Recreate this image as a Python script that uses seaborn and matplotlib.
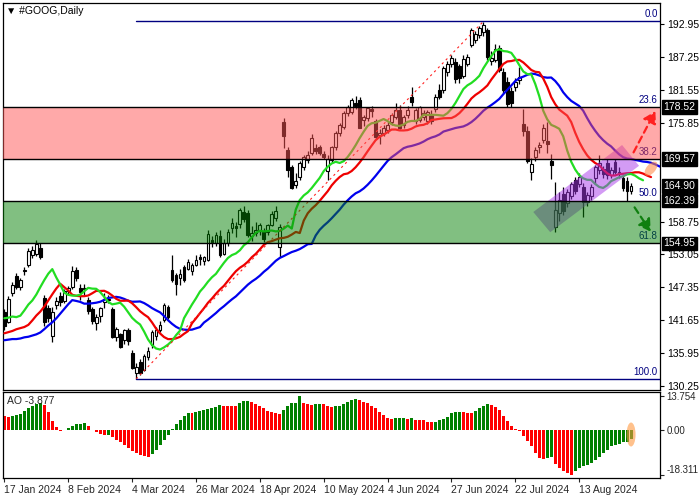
import numpy as np
import pandas as pd
import matplotlib
matplotlib.use("Agg")
import matplotlib.pyplot as plt
import matplotlib.transforms as mtransforms
from matplotlib.patches import Polygon, Ellipse, FancyArrowPatch
import seaborn as sns

sns.set_style("white")
plt.rcParams["font.family"] = ["Liberation Sans", "DejaVu Sans"]

# ---------------- data (daily bars from 17 Jan 2024) ----------------
opens = [
    143.1, 141.4, 146.3, 149.3, 147.4, 150.1, 151.2, 152.9, 153.2, 154.2,
    145.5, 143.8, 139.0, 144.3, 145.9, 145.0, 146.8, 147.4, 150.3, 147.2,
    147.0, 145.2, 143.6, 141.2, 142.4, 144.9, 145.4, 143.6, 138.7, 139.3,
    138.3, 140.0, 136.0, 132.6, 134.4, 133.1, 135.3, 137.4, 138.9, 140.0,
    141.7, 144.0, 150.4, 149.5, 148.9, 150.9, 150.6, 150.2, 151.3, 152.6,
    152.0, 152.1, 155.6, 155.0, 156.3, 153.2, 155.1, 157.7, 158.0, 158.3,
    160.4, 160.3, 156.2, 156.8, 157.1, 157.0, 156.9, 158.2, 159.4, 154.3,
    176.0, 171.2, 168.2, 165.1, 166.5, 168.2, 169.4, 170.6, 171.5, 171.6,
    170.4, 167.5, 169.4, 171.6, 174.1, 175.1, 177.5, 177.7, 179.2, 179.8,
    176.3, 176.7, 178.2, 176.1, 173.8, 174.1, 174.6, 175.9, 176.9, 178.1,
    175.4, 177.2, 180.3, 176.1, 176.4, 176.9, 176.1, 177.2, 178.2, 181.5,
    181.5, 184.6, 186.0, 186.4, 185.6, 184.0, 186.0, 189.3, 190.2, 191.1,
    191.5, 191.9, 186.6, 186.7, 188.8, 184.6, 182.9, 181.4, 182.0, 183.3,
    175.6, 174.5, 167.4, 169.9, 171.7, 172.9, 172.7, 169.3, 157.8, 160.3,
    163.6, 162.0, 163.1, 165.9, 165.2, 164.8, 162.2, 163.1, 166.3, 167.6,
    167.8, 168.8, 166.8, 169.0, 166.9, 166.3, 165.7, 164.1]
highs = [
    143.6, 145.8, 148.2, 149.8, 149.0, 150.9, 154.2, 154.6, 155.5, 155.1,
    146.0, 144.3, 143.9, 145.6, 146.5, 147.1, 147.6, 151.0, 150.8, 148.0,
    148.0, 145.6, 144.0, 142.8, 144.0, 146.3, 146.0, 143.9, 140.5, 139.5,
    140.2, 140.3, 136.5, 134.3, 134.9, 135.9, 137.0, 140.0, 140.5, 141.6,
    144.7, 144.3, 153.0, 149.8, 150.5, 151.3, 152.3, 151.6, 153.0, 153.2,
    152.8, 157.2, 156.3, 157.0, 157.3, 155.8, 157.4, 159.3, 158.6, 161.1,
    161.5, 160.7, 157.9, 158.7, 158.5, 157.6, 158.4, 160.5, 161.4, 158.3,
    176.6, 171.6, 168.6, 167.2, 169.2, 170.3, 170.9, 173.9, 172.2, 172.0,
    171.0, 170.2, 171.9, 174.4, 175.8, 177.9, 179.0, 180.1, 180.5, 180.3,
    177.2, 178.6, 178.8, 176.5, 174.7, 175.4, 176.0, 177.6, 179.3, 178.9,
    177.2, 178.7, 182.0, 178.4, 178.8, 178.1, 178.0, 178.0, 180.8, 182.5,
    185.7, 186.5, 187.6, 187.1, 186.0, 187.5, 187.8, 192.2, 191.8, 192.6,
    193.3, 192.3, 188.2, 189.5, 189.4, 185.3, 183.8, 182.1, 183.6, 185.5,
    178.3, 175.3, 169.7, 171.7, 172.6, 175.6, 176.0, 170.4, 165.6, 163.8,
    164.8, 164.3, 165.6, 166.4, 167.1, 165.4, 163.8, 165.2, 168.5, 170.3,
    168.4, 169.5, 168.2, 169.6, 168.2, 167.0, 166.4, 165.5]
lows = [
    140.0, 141.1, 145.8, 147.0, 146.9, 149.5, 150.9, 152.4, 152.8, 152.2,
    140.6, 141.3, 137.9, 143.6, 144.2, 144.6, 146.0, 147.0, 148.5, 145.2,
    146.0, 142.8, 141.0, 139.9, 141.3, 143.8, 144.7, 138.6, 138.0, 136.8,
    137.5, 137.4, 133.2, 131.4, 132.1, 132.8, 134.8, 136.9, 138.3, 139.6,
    141.3, 141.8, 148.3, 146.0, 147.8, 148.2, 150.3, 149.5, 151.0, 151.2,
    151.3, 151.9, 154.4, 154.6, 152.6, 152.9, 154.6, 156.8, 156.0, 157.7,
    158.6, 156.1, 155.4, 156.2, 156.5, 155.2, 156.5, 157.9, 158.8, 152.6,
    171.4, 166.5, 164.3, 164.6, 166.0, 167.6, 168.8, 170.3, 170.4, 170.2,
    169.5, 165.9, 169.0, 171.2, 173.6, 174.8, 177.1, 177.3, 178.3, 174.9,
    175.3, 176.2, 176.8, 173.0, 172.2, 173.5, 174.0, 175.4, 176.5, 174.7,
    175.0, 176.7, 178.7, 175.6, 175.9, 176.4, 175.6, 175.6, 177.8, 180.0,
    181.0, 184.0, 185.5, 182.7, 182.8, 183.6, 185.6, 188.9, 189.6, 190.5,
    190.8, 186.8, 185.8, 186.3, 184.6, 181.0, 178.6, 178.6, 181.3, 182.6,
    173.5, 168.8, 165.9, 169.3, 170.7, 172.4, 170.6, 166.2, 156.9, 158.9,
    159.9, 161.3, 162.6, 163.5, 164.7, 159.6, 161.5, 162.5, 165.2, 167.0,
    166.3, 166.2, 166.3, 166.9, 166.3, 164.1, 162.3, 163.6]
closes = [
    140.7, 145.4, 147.8, 147.4, 148.7, 150.4, 153.6, 153.8, 154.9, 152.6,
    141.4, 142.1, 143.0, 145.0, 144.9, 146.8, 147.3, 150.2, 148.9, 146.6,
    147.3, 143.3, 141.5, 142.2, 143.8, 145.4, 145.1, 138.8, 140.2, 137.1,
    139.9, 138.0, 133.4, 133.6, 132.6, 135.4, 136.3, 139.6, 139.9, 140.8,
    144.3, 142.2, 148.6, 147.9, 149.7, 148.7, 151.8, 151.2, 152.1, 152.3,
    152.6, 156.6, 155.2, 156.4, 153.0, 155.0, 157.0, 158.5, 157.6, 160.8,
    159.2, 156.4, 156.8, 157.3, 158.1, 155.7, 158.1, 160.0, 160.6, 157.8,
    173.6, 167.7, 164.6, 165.8, 168.9, 169.9, 170.3, 173.3, 170.9, 170.6,
    169.9, 169.6, 171.6, 174.1, 175.5, 177.5, 178.6, 179.8, 178.8, 175.0,
    176.8, 178.4, 177.9, 173.4, 174.1, 175.0, 175.5, 177.2, 178.1, 175.0,
    176.9, 178.1, 179.4, 178.1, 178.5, 177.6, 177.7, 176.1, 180.3, 180.3,
    185.3, 186.0, 187.1, 183.4, 183.6, 186.9, 187.3, 191.9, 191.3, 192.2,
    192.8, 187.2, 187.0, 188.6, 185.0, 181.6, 179.1, 179.3, 182.9, 183.8,
    174.5, 169.2, 168.7, 171.1, 172.0, 174.9, 172.1, 168.5, 160.7, 162.5,
    160.6, 163.8, 165.2, 164.0, 166.4, 162.2, 163.3, 164.8, 168.2, 168.9,
    166.9, 166.8, 167.7, 167.4, 167.4, 164.6, 164.0, 164.9]

# Awesome Oscillator values
ao_values = [
    5.4, 5.2, 5.7, 6.0, 6.5, 7.8, 8.7, 9.6, 10.5, 11.0,
    10.0, 7.3, 3.6, 1.3, -0.4, -0.2, 0.6, 1.6, 2.2, 2.4,
    2.6, 1.6, 0.0, -1.0, -1.6, -2.3, -2.1, -2.9, -4.0, -5.1,
    -6.3, -7.3, -8.4, -9.4, -10.2, -10.7, -10.8, -9.8, -8.0, -6.3,
    -4.3, -2.2, 0.3, 2.3, 4.0, 5.6, 7.0, 6.8, 7.3, 7.8,
    8.0, 8.4, 9.0, 9.4, 9.9, 9.8, 9.7, 9.6, 9.5, 10.7,
    11.7, 11.8, 11.1, 10.5, 9.6, 8.7, 7.8, 7.1, 6.7, 6.2,
    8.0, 9.6, 10.7, 11.0, 13.754, 10.7, 10.4, 10.0, 10.4, 10.5,
    10.4, 9.8, 9.4, 9.5, 9.7, 10.4, 11.4, 12.1, 12.3, 12.1,
    11.4, 10.7, 9.8, 8.7, 7.3, 6.0, 4.8, 4.5, 4.6, 4.8,
    4.9, 4.5, 4.6, 4.0, 3.9, 3.8, 3.1, 3.0, 3.3, 3.8,
    4.3, 5.0, 6.7, 7.1, 7.2, 7.1, 7.0, 6.9, 7.8, 8.7,
    9.8, 10.4, 10.2, 9.2, 8.1, 5.7, 3.7, 1.6, 0.3, -0.4,
    -2.7, -4.7, -6.7, -9.4, -11.4, -11.8, -11.4, -11.1, -14.0, -15.4,
    -16.7, -17.4, -18.311, -16.7, -15.4, -14.8, -14.4, -13.4, -12.3, -11.1,
    -9.4, -8.1, -6.7, -6.0, -5.7, -5.1, -4.9, -3.877]
ao_before_first = 5.6

# Alligator: values already on chart before first computed point
jaw_lead = [138.2, 138.3, 138.4, 138.4, 138.5, 138.7, 138.8, 139.0]
teeth_lead = [139.4, 139.6, 139.8, 140.1, 140.3]
lips_lead = [142.0, 142.1, 142.3]

date_ticks = [0, 16, 32, 48, 64, 80, 96, 112, 128, 144]
date_labels = ["17 Jan 2024", "8 Feb 2024", "4 Mar 2024", "26 Mar 2024", "18 Apr 2024",
               "10 May 2024", "4 Jun 2024", "27 Jun 2024", "22 Jul 2024", "13 Aug 2024"]
price_ticks = [192.95, 187.25, 181.55, 175.85, 158.75, 153.05, 147.35, 141.65, 135.95, 130.25]
marked_prices = [178.52, 169.57, 164.90, 162.39, 154.95]
ao_ticks = [13.754, 0.0, -18.311]
ao_tick_labels = ["13.754", "0.00", "-18.311"]
fib_levels = [193.4, 178.52, 169.57, 162.39, 154.95, 131.5]
fib_names = ["0.0", "23.6", "38.2", "50.0", "61.8", "100.0"]
fib_anchor = [(33, 131.5), (120, 193.4)]
channel = [(132.5, 160.4), (136.75, 156.9), (159.0, 168.4), (154.75, 172.0)]
up_arrow = [(157.3, 170.3), (163.4, 178.3)]
down_arrow = [(157.5, 161.6), (162.3, 156.6)]

n = min(len(opens), len(highs), len(lows), len(closes), len(ao_values))
o = np.array(opens[:n]); h = np.array(highs[:n]); l = np.array(lows[:n]); c = np.array(closes[:n])
idx = np.arange(n)

def smma(vals, period, seed):
    out, s = [], seed
    for v in vals:
        s = (s * (period - 1) + v) / period
        out.append(s)
    return out

median = (h + l) / 2
jaw = jaw_lead + smma(median, 13, jaw_lead[-1])
teeth = teeth_lead + smma(median, 8, teeth_lead[-1])
lips = lips_lead + smma(median, 5, lips_lead[-1])

# ---------------- figure ----------------
fig = plt.figure(figsize=(7, 5), dpi=100)
fig.patch.set_facecolor("white")
ax = fig.add_axes([3 / 700, 110 / 500, 657 / 700, 387 / 500])
ax2 = fig.add_axes([3 / 700, 22 / 500, 657 / 700, 86 / 500])

XMIN, XMAX = -0.35, 164.25
YMIN, YMAX = 129.58, 196.59

# candles
up = c >= o
ax.vlines(idx, l, h, color="black", lw=0.9, zorder=2)
bb = np.minimum(o, c)
bh = np.maximum(np.abs(c - o), 0.15)
ax.bar(idx[up], bh[up], bottom=bb[up], width=0.7, color="white", edgecolor="black", linewidth=0.8, zorder=3)
ax.bar(idx[~up], bh[~up], bottom=bb[~up], width=0.7, color="black", edgecolor="black", linewidth=0.8, zorder=3)

# alligator lines
sns.lineplot(x=np.arange(len(jaw)), y=jaw, ax=ax, color="#0000ee", linewidth=1.6, zorder=4)
sns.lineplot(x=np.arange(len(teeth)), y=teeth, ax=ax, color="#ee0000", linewidth=1.6, zorder=4)
sns.lineplot(x=np.arange(len(lips)), y=lips, ax=ax, color="#22dd22", linewidth=1.6, zorder=4)

# fibo diagonal and 0 / 100 lines
ax.plot([fib_anchor[0][0], fib_anchor[1][0]], [fib_anchor[0][1], fib_anchor[1][1]],
        color="#ff2020", lw=0.8, ls=(0, (2, 3)), zorder=4)
for lev in (fib_levels[0], fib_levels[-1]):
    ax.plot([fib_anchor[0][0], XMAX], [lev, lev], color="#000080", lw=1.0, zorder=4)
for lev, name in zip(fib_levels, fib_names):
    ax.text(XMAX - 0.6, lev + 0.35, name, ha="right", va="bottom", fontsize=7, color="#000080", zorder=4)

# channel rectangle
ax.add_patch(Polygon(channel, closed=True, facecolor=(0.66, 0.22, 0.92), alpha=0.5, edgecolor="none", zorder=5))

# zones (semi-transparent overlays)
ax.axhspan(fib_levels[2], fib_levels[1], color=(1.0, 0.33, 0.33), alpha=0.5, lw=0, zorder=6)
ax.axhspan(fib_levels[4], fib_levels[3], color=(0.02, 0.5, 0.02), alpha=0.5, lw=0, zorder=6)
for lev in fib_levels[1:5]:
    ax.axhline(lev, color="black", lw=1.0, zorder=7)

# arrows
ax.add_patch(FancyArrowPatch(up_arrow[0], up_arrow[1], arrowstyle="-|>,head_length=5,head_width=3",
                             color="#ff2020", lw=1.6, ls=(0, (3, 2)), zorder=8, mutation_scale=1.4))
ax.add_patch(FancyArrowPatch(down_arrow[0], down_arrow[1], arrowstyle="-|>,head_length=5,head_width=3",
                             color="#108010", lw=1.6, ls=(0, (3, 2)), zorder=8, mutation_scale=1.4))

# orange highlight at line ends
tr = mtransforms.Affine2D() + mtransforms.ScaledTranslation(162.0, 167.9, ax.transData)
ax.add_patch(Ellipse((0, 0), 17, 9, angle=50, facecolor=(1.0, 0.55, 0.3), alpha=0.6, edgecolor="none",
                     transform=tr, zorder=8))

ax.set_xlim(XMIN, XMAX)
ax.set_ylim(YMIN, YMAX)
ax.set_xticks([])
ax.yaxis.tick_right()
ax.set_yticks(price_ticks)
ax.set_yticklabels([f"{v:.2f}" for v in price_ticks], fontsize=7.5)
ax.tick_params(axis="y", direction="out", length=3, width=0.8, pad=2, colors="black", right=True, left=False)
ax.set_xlabel(""); ax.set_ylabel("")
for s in ax.spines.values():
    s.set_color("black"); s.set_linewidth(0.9)

trans = mtransforms.blended_transform_factory(ax.transAxes, ax.transData)
for v in marked_prices:
    ax.text(1.0055, v, f"{v:.2f}", transform=trans, ha="left", va="center", fontsize=7.5, color="white",
            bbox=dict(boxstyle="square,pad=0.18", fc="black", ec="black"), zorder=10, clip_on=False)

fig.text(6 / 700, 1 - 11 / 500, "\u25bc #GOOG,Daily", fontsize=7.5, va="center", ha="left", color="black")

# ---------------- AO panel ----------------
ao = np.array(ao_values[:n])
prev = np.concatenate([[ao_before_first], ao[:-1]])
direction = np.where(ao > prev, "up", "down")
df = pd.DataFrame({"bar": idx, "ao": ao, "dir": direction})
sns.barplot(data=df, x="bar", y="ao", hue="dir", palette={"up": "#008000", "down": "#ff0000"},
            native_scale=True, dodge=False, width=0.75, legend=False, ax=ax2, saturation=1, linewidth=0)
tr2 = mtransforms.Affine2D() + mtransforms.ScaledTranslation(idx[-1], -1.9, ax2.transData)
ax2.add_patch(Ellipse((0, 0), 9, 24, facecolor=(1.0, 0.6, 0.25), alpha=0.6, edgecolor="none",
                      transform=tr2, zorder=8))
ax2.set_xlim(XMIN, XMAX)
ax2.set_ylim(-19.5, 15.3)
ax2.yaxis.tick_right()
ax2.set_yticks(ao_ticks)
ax2.set_yticklabels(ao_tick_labels, fontsize=7)
ax2.tick_params(axis="y", direction="out", length=3, width=0.8, pad=1.5, right=True, left=False)
for lab in ax2.get_yticklabels():
    if lab.get_text().startswith("-"):
        lab.set_va("bottom")
ax2.set_xticks(date_ticks)
ax2.set_xticklabels(date_labels, fontsize=7.5, ha="left")
ax2.tick_params(axis="x", direction="out", length=3, width=0.8, pad=2, bottom=True)
ax2.set_xlabel(""); ax2.set_ylabel("")
for s in ax2.spines.values():
    s.set_color("black"); s.set_linewidth(0.9)
ax2.text(0.006, 0.89, f"AO {ao_values[n - 1]:.3f}", transform=ax2.transAxes, fontsize=7.5, va="center", ha="left")

fig.savefig("out.png", dpi=100, facecolor="white")
